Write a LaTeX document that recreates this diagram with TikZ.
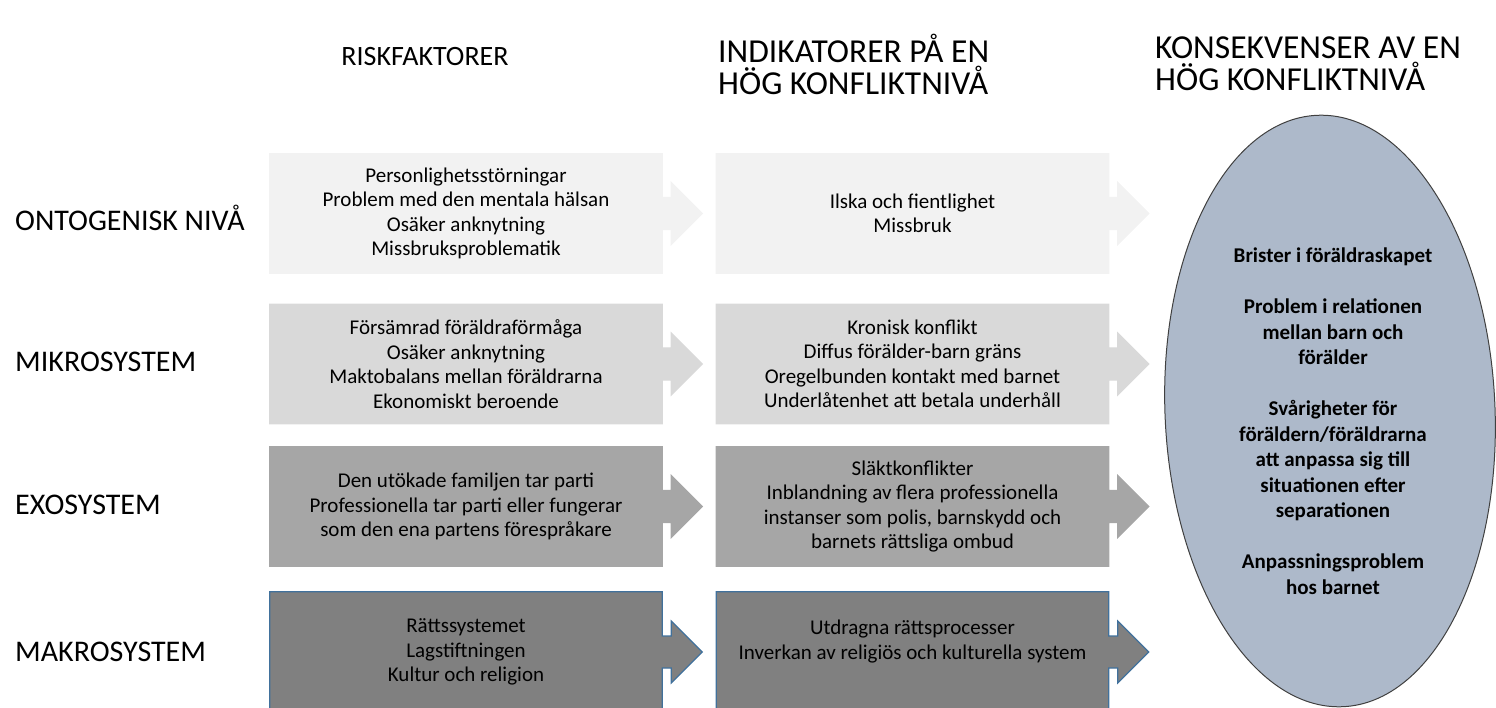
\documentclass[tikz,border=0pt]{standalone}
\usepackage{fontspec}
\setmainfont{Carlito}
\usepackage{tikz}
\usepackage{xcolor}
\usetikzlibrary{calc, positioning, backgrounds}

\definecolor{onto}{HTML}{F2F2F2}
\definecolor{mikro}{HTML}{D9D9D9}
\definecolor{exo}{HTML}{A6A6A6}
\definecolor{makro}{HTML}{808080}
\definecolor{makrorim}{HTML}{41719C}
\definecolor{konsfill}{HTML}{ADB9CA}

\begin{document}
\begin{tikzpicture}[x=1pt, y=-1pt,
        rubrik/.style={font=\fontsize{33.5}{32}\selectfont, align=left, inner sep=0pt, anchor=west},
        niva/.style={font=\fontsize{30}{34}\selectfont, anchor=west, inner sep=0pt},
        ruta/.style={minimum width=392pt, minimum height=119pt, inner sep=0pt, align=center,
            font=\fontsize{21}{24.5}\selectfont},
        konstext/.style={align=center, inner sep=0pt, font=\fontsize{21}{25.5}\selectfont\bfseries}]
    \useasboundingbox (0, 0) rectangle (1496, 708);

    \node[font=\fontsize{28}{33}\selectfont, inner sep=0pt] (risk) at (425, 57) {RISKFAKTORER};
    \node[rubrik] (ind) at (718, 64) {INDIKATORER PÅ EN\\HÖG KONFLIKTNIVÅ};
    \node[rubrik] (kons) at (1155, 64) {KONSEKVENSER AV EN\\HÖG KONFLIKTNIVÅ};

    \node[niva] (n1) at (15, 218) {ONTOGENISK NIVÅ};
    \node[niva] (n2) at (15, 362) {MIKROSYSTEM};
    \node[niva] (n3) at (15, 505) {EXOSYSTEM};
    \node[niva] (n4) at (15, 652) {MAKROSYSTEM};

    \node[ruta] (r1) at (466, 213.5) {Personlighetsstörningar\\Problem med den mentala hälsan\\Osäker anknytning\\Missbruksproblematik};
    \node[ruta] (r2) at (466, 364) {Försämrad föräldraförmåga\\Osäker anknytning\\Maktobalans mellan föräldrarna\\Ekonomiskt beroende};
    \node[ruta] (r3) at (466, 506.5) {Den utökade familjen tar parti\\Professionella tar parti eller fungerar\\som den ena partens förespråkare};
    \node[ruta, minimum height=120pt] (r4) at (466, 652) {Rättssystemet\\Lagstiftningen\\Kultur och religion};

    \node[ruta] (i1) at (912.5, 213.5) {Ilska och fientlighet\\Missbruk};
    \node[ruta] (i2) at (912.5, 364) {Kronisk konflikt\\Diffus förälder-barn gräns\\Oregelbunden kontakt med barnet\\Underlåtenhet att betala underhåll};
    \node[ruta] (i3) at (912.5, 506.5) {Släktkonflikter\\Inblandning av flera professionella\\instanser som polis, barnskydd och\\barnets rättsliga ombud};
    \node[ruta, minimum height=120pt] (i4) at (912.5, 652) {Utdragna rättsprocesser\\Inverkan av religiös och kulturella system\\~};

    \begin{pgfonlayer}{background}
        \foreach \n/\f/\d in {r1/onto/onto, i1/onto/onto, r2/mikro/mikro, i2/mikro/mikro,
                r3/exo/exo, i3/exo/exo, r4/makro/makrorim, i4/makro/makrorim}
            \draw[fill=\f, draw=\d, line width=1.2pt, line join=miter]
            (\n.north west) -- (\n.north east) -- ($(\n.east)+(0,-16)$) -- ($(\n.east)+(9,-16)$)
            -- ($(\n.east)+(9,-31)$) -- ($(\n.east)+(40,0)$) -- ($(\n.east)+(9,31)$)
            -- ($(\n.east)+(9,16)$) -- ($(\n.east)+(0,16)$) -- (\n.south east) -- (\n.south west) -- cycle;
        \draw[fill=konsfill, draw=black!75, line width=1pt, rotate around={2.5:(1330,411)}]
            (1330, 411) ellipse [x radius=165pt, y radius=296pt];
    \end{pgfonlayer}

    \node[konstext] (k) at (1333, 421) {Brister i föräldraskapet\\[25.5pt]Problem i relationen\\mellan barn och\\förälder\\[25.5pt]Svårigheter för\\föräldern/föräldrarna\\att anpassa sig till\\situationen efter\\separationen\\[25.5pt]Anpassningsproblem\\hos barnet};
\end{tikzpicture}
\end{document}
